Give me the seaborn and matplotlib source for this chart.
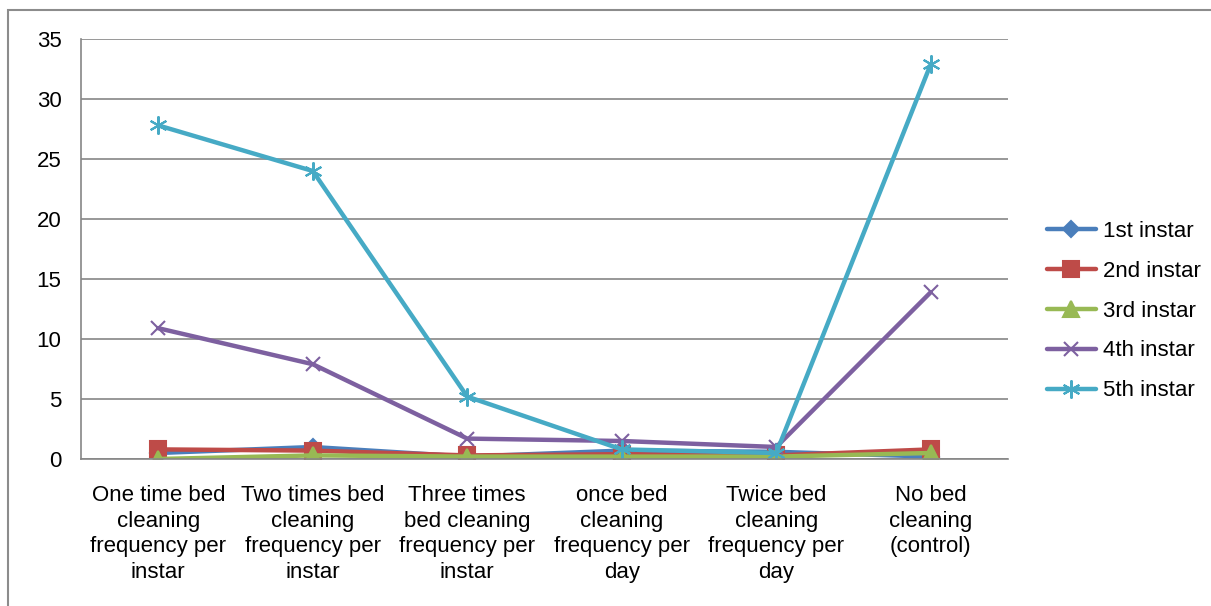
import matplotlib
matplotlib.use("Agg")
import matplotlib.pyplot as plt
import matplotlib.patches as mpatches
import numpy as np
import pandas as pd
import seaborn as sns

categories = [
    "One time bed\ncleaning\nfrequency per\ninstar",
    "Two times bed\ncleaning\nfrequency per\ninstar",
    "Three times\nbed cleaning\nfrequency per\ninstar",
    "once bed\ncleaning\nfrequency per\nday",
    "Twice bed\ncleaning\nfrequency per\nday",
    "No bed\ncleaning\n(control)",
]
series_names = ["1st instar", "2nd instar", "3rd instar", "4th instar", "5th instar"]
instar1 = [0.5, 1.0, 0.2, 0.7, 0.6, 0.2]
instar2 = [0.8, 0.7, 0.3, 0.4, 0.3, 0.8]
instar3 = [0.0, 0.3, 0.2, 0.2, 0.2, 0.5]
instar4 = [10.9, 7.9, 1.7, 1.5, 1.0, 13.9]
instar5 = [27.8, 24.0, 5.2, 0.8, 0.5, 32.9]
y_ticks = [0, 5, 10, 15, 20, 25, 30, 35]

colors = ["#4A7EBB", "#BE4B48", "#98B954", "#7D60A0", "#46AAC5"]
markers = ["D", "s", "^", "x", (6, 2, 0)]
marker_sizes = [8, 11, 11, 10, 13]

rows = []
for name, vals in zip(series_names, [instar1, instar2, instar3, instar4, instar5]):
    for i, v in enumerate(vals):
        rows.append({"pos": i, "value": v, "series": name})
df = pd.DataFrame(rows)

sns.set_style("white")
plt.rcParams["font.family"] = ["Liberation Sans", "DejaVu Sans"]
plt.rcParams["text.color"] = "black"
plt.rcParams["xtick.labelcolor"] = "black"
plt.rcParams["ytick.labelcolor"] = "black"
FS = 16

fig = plt.figure(figsize=(12.11, 6.06), dpi=100)
ax = fig.add_axes([81 / 1211, 1 - 459 / 606, (1008 - 81) / 1211, (459 - 39) / 606])

# Outer chart frame
fig.patches.append(mpatches.Rectangle((8 / 1211, -0.01), 1.01, 1 - 10 / 606 + 0.01,
                                      transform=fig.transFigure, fill=False,
                                      edgecolor="#8C8C8C", linewidth=1.5))

for name, col, mk, ms in zip(series_names, colors, markers, marker_sizes):
    sub = df[df["series"] == name]
    sns.lineplot(data=sub, x="pos", y="value", ax=ax, color=col, linewidth=3.2,
                 marker=mk, markersize=ms, markeredgecolor=col, markerfacecolor=col,
                 markeredgewidth=1.5, label=name)

ax.set_xlim(-0.5, len(categories) - 0.5)
ax.set_ylim(0, 35)
ax.set_yticks(y_ticks)
ax.set_yticklabels([str(t) for t in y_ticks], fontsize=FS, color="black")
ax.set_xticks(range(len(categories)))
ax.set_xticklabels(categories, fontsize=FS, linespacing=1.28, color="black")
ax.set_xticks(np.arange(-0.5, len(categories), 1.0), minor=True)
ax.tick_params(axis="x", which="major", length=0, pad=19)
ax.tick_params(axis="x", which="minor", length=6, color="#868686", width=1.2, direction="out")
ax.tick_params(axis="y", length=6, color="#868686", width=1.2, direction="out", pad=8)
ax.set_xlabel("")
ax.set_ylabel("")

ax.grid(axis="y", color="#868686", linewidth=1.2)
ax.set_axisbelow(True)
for side in ["top", "right"]:
    ax.spines[side].set_visible(False)
for side in ["left", "bottom"]:
    ax.spines[side].set_color("#868686")
    ax.spines[side].set_linewidth(1.2)

leg = ax.legend(loc="center left", bbox_to_anchor=(1047 / 1211, 1 - 311 / 606),
                bbox_transform=fig.transFigure, frameon=False, borderpad=0,
                borderaxespad=0, fontsize=FS, handlelength=2.2, handletextpad=0.3,
                labelspacing=0.85)
for t in leg.get_texts():
    t.set_color("black")

fig.savefig("out.png", dpi=100)
